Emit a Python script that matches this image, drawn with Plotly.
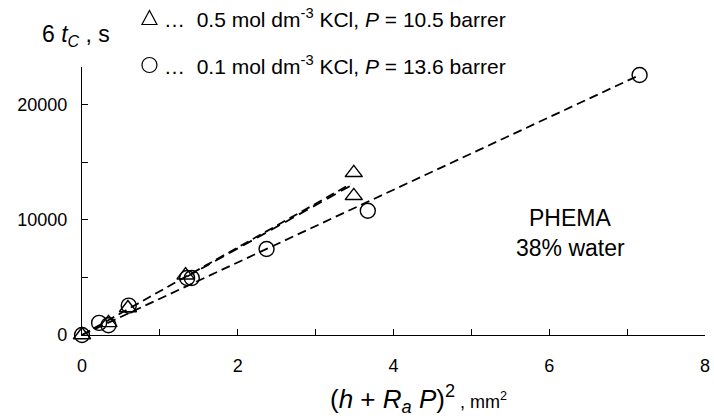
import plotly.graph_objects as go

# ---- data ----
tri_x = [0, 0.34, 0.59, 1.33, 3.49, 3.49]
tri_y = [0, 1050, 2350, 5200, 14100, 12100]

circ_x = [0, 0.22, 0.34, 0.60, 1.35, 1.41, 2.37, 3.67, 7.16]
circ_y = [0, 1050, 850, 2550, 4950, 4950, 7480, 10800, 22600]

# fitted lines (end points)
tri_fit_x = [0, 3.45]
tri_fit_y = [0, 13130]
tri_fit2_x = [1.35, 3.45]
tri_fit2_y = [5080, 12980]
circ_fit_x = [0, 7.16]
circ_fit_y = [0, 22600]

x_tickvals = [0, 1, 2, 3, 4, 5, 6, 7, 8]
x_ticktext = ["0", "", "2", "", "4", "", "6", "", "8"]
y_tickvals = [0, 5000, 10000, 15000, 20000]
y_ticktext = ["0", "", "10000", "", "20000"]

FONT = "Liberation Sans, Arial, Helvetica, sans-serif"

fig = go.Figure()
dash = "9px,5px"
fig.add_trace(go.Scatter(x=circ_fit_x, y=circ_fit_y, mode="lines",
                         line=dict(color="black", width=1.8, dash=dash),
                         showlegend=False, cliponaxis=False))
fig.add_trace(go.Scatter(x=tri_fit_x, y=tri_fit_y, mode="lines",
                         line=dict(color="black", width=1.8, dash=dash),
                         showlegend=False, cliponaxis=False))
fig.add_trace(go.Scatter(x=tri_fit2_x, y=tri_fit2_y, mode="lines",
                         line=dict(color="black", width=1.8, dash="10px,6px"),
                         showlegend=False, cliponaxis=False))
fig.add_trace(go.Scatter(x=tri_x, y=tri_y, mode="markers",
                         marker=dict(symbol="triangle-up-open", size=15, color="black",
                                     line=dict(width=1.4, color="black")),
                         showlegend=False, cliponaxis=False))
fig.add_trace(go.Scatter(x=circ_x, y=circ_y, mode="markers",
                         marker=dict(symbol="circle-open", size=15, color="black",
                                     line=dict(width=1.4, color="black")),
                         showlegend=False, cliponaxis=False))

L, R, T, B = 82, 4, 67, 85
W, H = 714, 420
PW, PH = W - L - R, H - T - B


def px(xp):
    return (xp - L) / PW


def py(yp):
    return (H - B - yp) / PH


shapes = [
    dict(type="path", xref="paper", yref="paper", xsizemode="pixel", ysizemode="pixel",
         xanchor=px(150), yanchor=py(18),
         path="M -7.5 -6.5 L 7.5 -6.5 L 0 7.5 Z",
         line=dict(color="black", width=1.2), fillcolor="rgba(0,0,0,0)"),
    dict(type="circle", xref="paper", yref="paper", xsizemode="pixel", ysizemode="pixel",
         xanchor=px(150), yanchor=py(65), x0=-7.5, x1=7.5, y0=-7.5, y1=7.5,
         line=dict(color="black", width=1.2), fillcolor="rgba(0,0,0,0)"),
]

nb = "\u00a0"
annotations = [
    dict(text="…" + nb * 2 + "0.5 mol dm<sup>-3</sup> KCl, <i>P</i> = 10.5 barrer",
         xref="paper", yref="paper", x=px(163), y=py(18), xanchor="left", yanchor="middle",
         showarrow=False, font=dict(size=21, family=FONT, color="black")),
    dict(text="…" + nb * 2 + "0.1 mol dm<sup>-3</sup> KCl, <i>P</i> = 13.6 barrer",
         xref="paper", yref="paper", x=px(163), y=py(65), xanchor="left", yanchor="middle",
         showarrow=False, font=dict(size=21, family=FONT, color="black")),
    dict(text="6 <i>t</i><sub><i>C</i></sub> , s",
         xref="paper", yref="paper", x=px(76), y=py(36), xanchor="center", yanchor="middle",
         showarrow=False, font=dict(size=23, family=FONT, color="black")),
    dict(text="PHEMA",
         xref="paper", yref="paper", x=px(574), y=py(218), xanchor="center", yanchor="middle",
         showarrow=False, font=dict(size=23, family=FONT, color="black")),
    dict(text="38% water",
         xref="paper", yref="paper", x=px(574), y=py(248), xanchor="center", yanchor="middle",
         showarrow=False, font=dict(size=23, family=FONT, color="black")),
    dict(text="(<i>h</i> + <i>R</i><sub><i>a</i></sub> <i>P</i>)<sup>2</sup>"
              "<span style='font-size:18px'> , mm<sup>2</sup></span>",
         xref="paper", yref="paper", x=px(421), y=py(399), xanchor="center", yanchor="middle",
         showarrow=False, font=dict(size=26, family=FONT, color="black")),
]

fig.update_layout(
    width=W, height=H,
    margin=dict(l=L, r=R, t=T, b=B),
    plot_bgcolor="white", paper_bgcolor="white",
    font=dict(family=FONT, color="black", size=18),
    showlegend=False,
    shapes=shapes,
    annotations=annotations,
    xaxis=dict(range=[0, 8], tickvals=x_tickvals, ticktext=x_ticktext,
               ticks="inside", ticklen=6, tickwidth=1.2, tickcolor="black",
               showline=True, linecolor="black", linewidth=1.3,
               showgrid=False, zeroline=False, ticklabelstandoff=14,
               ticklabeloverflow="allow",
               tickfont=dict(size=18, family=FONT)),
    yaxis=dict(range=[0, 23300], tickvals=y_tickvals, ticktext=y_ticktext,
               ticks="inside", ticklen=6, tickwidth=1.2, tickcolor="black",
               showline=True, linecolor="black", linewidth=1.3,
               showgrid=False, zeroline=False, ticklabelstandoff=10,
               ticklabeloverflow="allow",
               tickfont=dict(size=18, family=FONT)),
)

fig.write_html("out.html")
